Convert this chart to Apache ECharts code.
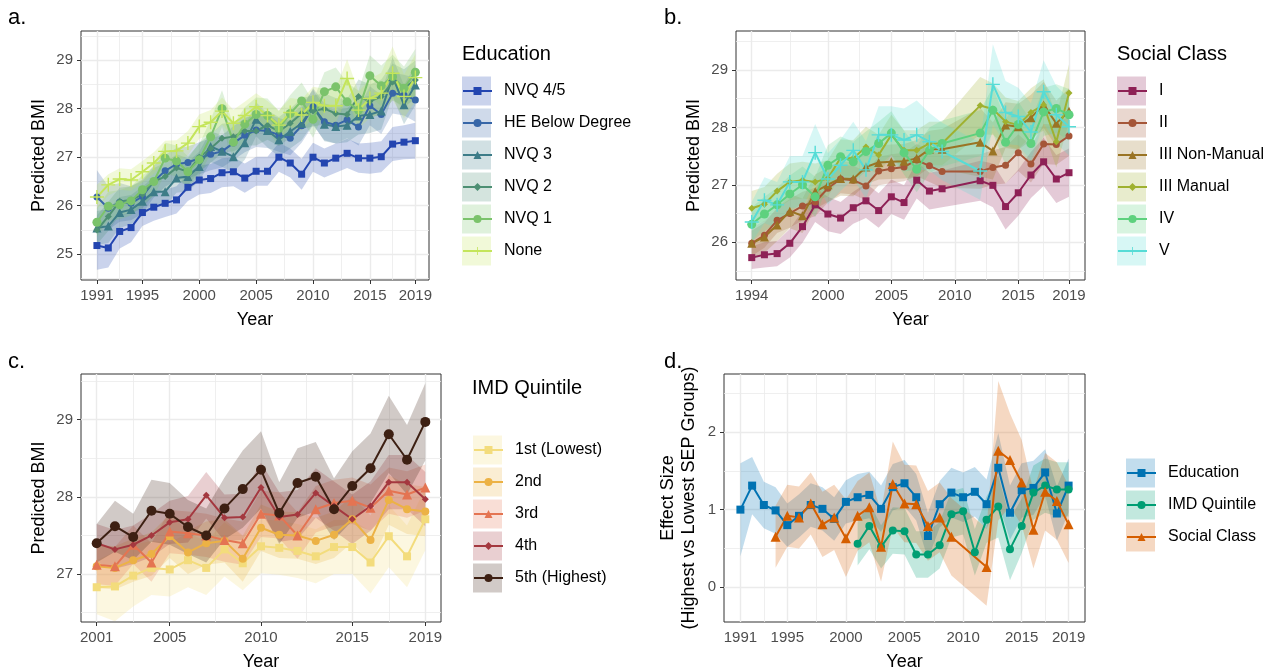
<!DOCTYPE html>
<html>
<head>
    <meta charset="utf-8"/>
    <title>Predicted BMI by socioeconomic position</title>
    <script src="https://cdn.jsdelivr.net/npm/echarts@6.0.0/dist/echarts.min.js"></script>
    <style>
        html, body { margin: 0; padding: 0; background: #fff; }
        #main { width: 1277px; height: 672px; }
    </style>
</head>
<body>
<div id="main"></div>
<script>
    var FONT = '"Liberation Sans", Arial, Helvetica, sans-serif';
    var PLUS = 'path://M9,0H11V9H20V11H11V20H9V11H0V9H9Z';

    // ---- a. Education ----
    var yearsA = [1991, 1992, 1993, 1994, 1995, 1996, 1997, 1998, 1999, 2000, 2001, 2002, 2003, 2004, 2005,
        2006, 2007, 2008, 2009, 2010, 2011, 2012, 2013, 2014, 2015, 2016, 2017, 2018, 2019];
    var nvq45 = [25.18, 25.13, 25.47, 25.55, 25.86, 25.97, 26.05, 26.12, 26.38, 26.53, 26.56, 26.68, 26.70, 26.57, 26.71,
        26.71, 27.00, 26.88, 26.65, 27.00, 26.88, 26.98, 27.08, 26.98, 26.98, 27.01, 27.27, 27.31, 27.34];
    var heBelow = [26.18, 25.95, 26.07, 26.05, 26.19, 26.50, 26.72, 26.86, 26.89, 26.98, 27.06, 27.12, 27.29, 27.45, 27.56,
        27.54, 27.46, 27.39, 27.65, 28.04, 27.73, 27.66, 27.77, 27.62, 28.06, 27.88, 28.32, 28.28, 28.18];
    var nvq3 = [25.54, 25.58, 25.86, 25.92, 26.09, 26.29, 26.29, 26.57, 26.60, 26.81, 27.22, 27.12, 27.01, 27.30, 27.78,
        27.55, 27.36, 27.53, 27.70, 28.04, 27.68, 27.63, 27.66, 27.85, 27.88, 27.95, 28.66, 28.08, 28.49];
    var nvq2 = [25.50, 25.78, 26.09, 26.12, 26.23, 26.50, 26.60, 26.78, 26.70, 27.00, 27.18, 27.39, 27.42, 27.54, 27.54,
        27.66, 27.53, 27.70, 27.90, 27.95, 28.00, 27.90, 27.88, 28.25, 28.15, 28.25, 28.55, 28.43, 28.59];
    var nvq1 = [25.66, 25.99, 26.02, 26.10, 26.33, 26.50, 26.98, 26.92, 26.70, 26.95, 27.42, 28.00, 27.31, 27.68, 27.88,
        27.86, 27.60, 27.90, 28.16, 27.78, 28.35, 28.45, 28.14, 27.97, 28.68, 28.47, 28.66, 28.42, 28.75];
    var noQual = [26.18, 26.43, 26.55, 26.53, 26.70, 26.88, 27.12, 27.13, 27.29, 27.63, 27.72, 27.95, 27.70, 27.86, 28.04,
        27.86, 27.66, 27.92, 27.87, 28.13, 28.06, 28.06, 28.62, 27.97, 28.21, 28.32, 28.73, 28.25, 28.64];
    // half widths of the 95% bands
    var ciNvq45 = [0.50, 0.40, 0.35, 0.30, 0.28, 0.28, 0.28, 0.28, 0.28, 0.30, 0.30, 0.30, 0.30, 0.30, 0.30,
        0.30, 0.30, 0.30, 0.32, 0.30, 0.30, 0.30, 0.30, 0.30, 0.32, 0.32, 0.35, 0.35, 0.37];
    var ciHe = [0.55, 0.45, 0.40, 0.35, 0.35, 0.33, 0.33, 0.33, 0.33, 0.33, 0.33, 0.33, 0.35, 0.35, 0.35,
        0.35, 0.35, 0.35, 0.35, 0.38, 0.38, 0.38, 0.38, 0.38, 0.40, 0.40, 0.42, 0.42, 0.45];
    var ciNvq3 = [0.35, 0.35, 0.32, 0.30, 0.30, 0.30, 0.30, 0.30, 0.30, 0.30, 0.32, 0.32, 0.32, 0.35, 0.35,
        0.35, 0.35, 0.35, 0.35, 0.35, 0.35, 0.35, 0.35, 0.38, 0.38, 0.38, 0.40, 0.40, 0.42];
    var ciNvq2 = [0.30, 0.30, 0.28, 0.28, 0.28, 0.28, 0.28, 0.28, 0.28, 0.30, 0.30, 0.30, 0.30, 0.30, 0.30,
        0.30, 0.30, 0.30, 0.32, 0.32, 0.32, 0.32, 0.32, 0.35, 0.35, 0.35, 0.38, 0.38, 0.40];
    var ciNvq1 = [0.30, 0.30, 0.30, 0.30, 0.30, 0.30, 0.32, 0.32, 0.32, 0.32, 0.35, 0.38, 0.35, 0.35, 0.35,
        0.35, 0.35, 0.38, 0.38, 0.38, 0.40, 0.40, 0.40, 0.40, 0.42, 0.42, 0.45, 0.45, 0.48];
    var ciNone = [0.25, 0.22, 0.22, 0.22, 0.22, 0.22, 0.22, 0.22, 0.25, 0.25, 0.25, 0.28, 0.28, 0.28, 0.28,
        0.30, 0.30, 0.30, 0.32, 0.32, 0.35, 0.35, 0.40, 0.38, 0.40, 0.42, 0.55, 0.45, 0.48];

    // ---- b. Social Class (no 2010, 2011) ----
    var yearsB = [1994, 1995, 1996, 1997, 1998, 1999, 2000, 2001, 2002, 2003, 2004, 2005, 2006, 2007, 2008, 2009,
        2012, 2013, 2014, 2015, 2016, 2017, 2018, 2019];
    var classI = [25.73, 25.78, 25.80, 25.98, 26.27, 26.65, 26.49, 26.42, 26.60, 26.72, 26.55, 26.79, 26.69, 27.08, 26.89, 26.93,
        27.07, 26.99, 26.62, 26.86, 27.17, 27.40, 27.10, 27.21];
    var classII = [25.98, 26.12, 26.38, 26.50, 26.63, 26.70, 26.94, 27.10, 27.08, 26.98, 27.24, 27.28, 27.31, 27.43, 27.33, 27.23,
        27.23, 27.30, 27.34, 27.56, 27.36, 27.71, 27.70, 27.85];
    var classIIINM = [25.98, 26.09, 26.30, 26.54, 26.46, 26.88, 27.00, 27.11, 27.10, 27.31, 27.39, 27.40, 27.41, 27.46, 27.62, 27.62,
        27.74, 27.59, 28.04, 28.01, 28.17, 28.39, 28.07, 28.28];
    var classIIIM = [26.59, 26.66, 26.89, 27.05, 27.08, 27.05, 27.11, 27.47, 27.46, 27.66, 27.52, 27.87, 27.60, 27.60, 27.72, 27.72,
        28.38, 28.32, 28.10, 28.04, 28.26, 28.39, 27.75, 28.60];
    var classIV = [26.31, 26.49, 26.65, 26.84, 27.00, 26.79, 27.34, 27.49, 27.40, 27.58, 27.72, 27.90, 27.56, 27.27, 27.60, 27.72,
        27.90, 28.30, 27.74, 28.05, 27.72, 28.27, 28.33, 28.22];
    var classV = [26.35, 26.73, 26.65, 27.05, 27.05, 27.56, 27.10, 27.34, 27.60, 27.26, 27.87, 27.87, 27.78, 27.87, 27.75, 27.58,
        27.24, 28.75, 28.26, 28.19, 27.92, 28.62, 28.22, 28.01];
    var ciI = [0.20, 0.22, 0.22, 0.25, 0.28, 0.30, 0.30, 0.28, 0.28, 0.30, 0.30, 0.30, 0.30, 0.32, 0.32, 0.32,
        0.35, 0.38, 0.40, 0.40, 0.40, 0.42, 0.42, 0.42];
    var ciII = [0.22, 0.22, 0.22, 0.25, 0.25, 0.25, 0.25, 0.25, 0.25, 0.25, 0.25, 0.25, 0.25, 0.28, 0.28, 0.28,
        0.30, 0.30, 0.32, 0.32, 0.32, 0.35, 0.35, 0.35];
    var ciIIINM = [0.28, 0.28, 0.28, 0.30, 0.30, 0.30, 0.30, 0.30, 0.30, 0.30, 0.30, 0.30, 0.30, 0.32, 0.32, 0.35,
        0.60, 0.50, 0.40, 0.40, 0.40, 0.40, 0.40, 0.40];
    var ciIIIM = [0.30, 0.30, 0.30, 0.32, 0.32, 0.32, 0.32, 0.32, 0.32, 0.35, 0.35, 0.35, 0.35, 0.35, 0.38, 0.38,
        0.50, 0.45, 0.42, 0.42, 0.42, 0.45, 0.45, 0.50];
    var ciIV = [0.30, 0.30, 0.30, 0.32, 0.32, 0.35, 0.35, 0.35, 0.35, 0.35, 0.38, 0.38, 0.38, 0.40, 0.40, 0.40,
        0.40, 0.40, 0.40, 0.40, 0.40, 0.42, 0.42, 0.45];
    var ciV = [0.35, 0.40, 0.40, 0.45, 0.45, 0.50, 0.45, 0.45, 0.50, 0.50, 0.50, 0.50, 0.55, 0.60, 0.50, 0.50,
        0.50, 0.70, 0.55, 0.50, 0.50, 0.55, 0.50, 0.50];

    // ---- c. IMD Quintile ----
    var yearsC = [2001, 2002, 2003, 2004, 2005, 2006, 2007, 2008, 2009, 2010, 2011, 2012, 2013, 2014, 2015, 2016, 2017, 2018, 2019];
    var imd1 = [26.83, 26.84, 26.98, 27.08, 27.06, 27.18, 27.08, 27.32, 27.14, 27.36, 27.34, 27.30, 27.23, 27.35, 27.35, 27.15, 27.49, 27.23, 27.71];
    var imd2 = [27.10, 27.08, 27.18, 27.26, 27.49, 27.28, 27.40, 27.43, 27.20, 27.60, 27.51, 27.50, 27.43, 27.51, 27.71, 27.44, 27.96, 27.84, 27.81];
    var imd3 = [27.12, 27.10, 27.38, 27.15, 27.55, 27.53, 27.50, 27.44, 27.40, 27.78, 27.76, 27.50, 27.84, 27.92, 27.95, 27.86, 28.08, 28.03, 28.12];
    var imd4 = [27.40, 27.32, 27.38, 27.50, 27.67, 27.71, 28.02, 27.73, 27.74, 28.12, 27.74, 27.77, 28.05, 27.88, 27.71, 27.88, 28.19, 28.19, 27.97];
    var imd5 = [27.40, 27.62, 27.48, 27.82, 27.78, 27.61, 27.50, 27.85, 28.10, 28.35, 27.79, 28.18, 28.26, 27.84, 28.14, 28.37, 28.81, 28.48, 28.97];
    var ciImd1 = [0.35, 0.45, 0.40, 0.35, 0.35, 0.35, 0.35, 0.35, 0.35, 0.35, 0.35, 0.35, 0.35, 0.35, 0.35, 0.40, 0.40, 0.40, 0.40];
    var ciImd2 = [0.28, 0.28, 0.28, 0.28, 0.28, 0.28, 0.28, 0.28, 0.30, 0.30, 0.30, 0.30, 0.30, 0.30, 0.30, 0.32, 0.32, 0.32, 0.32];
    var ciImd3 = [0.25, 0.25, 0.25, 0.25, 0.28, 0.28, 0.28, 0.28, 0.28, 0.30, 0.30, 0.30, 0.30, 0.30, 0.30, 0.30, 0.30, 0.30, 0.30];
    var ciImd4 = [0.25, 0.25, 0.25, 0.28, 0.28, 0.30, 0.30, 0.30, 0.30, 0.32, 0.32, 0.32, 0.32, 0.32, 0.32, 0.32, 0.35, 0.35, 0.35];
    var ciImd5 = [0.25, 0.33, 0.30, 0.40, 0.40, 0.35, 0.35, 0.40, 0.50, 0.50, 0.40, 0.45, 0.45, 0.40, 0.45, 0.45, 0.50, 0.45, 0.50];

    // ---- d. Effect size ----
    var yearsEdu = yearsA;
    var effEdu = [1.00, 1.31, 1.06, 0.99, 0.80, 0.92, 1.06, 1.01, 0.88, 1.10, 1.16, 1.19, 1.01, 1.29, 1.34,
        1.16, 0.66, 1.07, 1.22, 1.16, 1.23, 1.07, 1.54, 0.96, 1.25, 1.28, 1.48, 0.95, 1.31];
    var yearsImd = yearsC;
    var effImd = [0.56, 0.79, 0.52, 0.73, 0.72, 0.42, 0.42, 0.54, 0.94, 0.98, 0.45, 0.87, 1.04, 0.49, 0.79, 1.22, 1.31, 1.26, 1.26];
    var yearsSoc = yearsB;
    var effSoc = [0.65, 0.92, 0.90, 1.08, 0.81, 0.90, 0.63, 0.92, 1.03, 0.52, 1.33, 1.08, 1.07, 0.79, 0.90, 0.65,
        0.26, 1.76, 1.64, 1.35, 0.74, 1.23, 1.11, 0.81];
    var ciEdu = [0.60, 0.37, 0.30, 0.30, 0.28, 0.28, 0.28, 0.28, 0.28, 0.28, 0.30, 0.30, 0.30, 0.30, 0.30,
        0.30, 0.30, 0.30, 0.32, 0.32, 0.32, 0.32, 0.45, 0.35, 0.35, 0.35, 0.30, 0.35, 0.35];
    var ciImd = [0.28, 0.30, 0.28, 0.30, 0.30, 0.30, 0.30, 0.30, 0.30, 0.30, 0.30, 0.30, 0.40, 0.40, 0.35, 0.35, 0.35, 0.35, 0.35];
    var ciSoc = [0.40, 0.40, 0.40, 0.40, 0.42, 0.42, 0.50, 0.45, 0.45, 0.45, 0.55, 0.50, 0.50, 0.45, 0.45, 0.50,
        0.50, 0.90, 0.60, 0.55, 0.50, 0.50, 0.50, 0.50];

    // tick breaks
    var ticksYearA = [1991, 1995, 2000, 2005, 2010, 2015, 2019];
    var minorYearA = [1993, 1997.5, 2002.5, 2007.5, 2012.5, 2017];
    var ticksYearB = [1994, 2000, 2005, 2010, 2015, 2019];
    var minorYearB = [1997, 2002.5, 2007.5, 2012.5, 2017];
    var ticksYearC = [2001, 2005, 2010, 2015, 2019];
    var minorYearC = [2003, 2007.5, 2012.5, 2017];
    var ticksBmiA = [25, 26, 27, 28, 29];
    var minorBmiA = [24.5, 25.5, 26.5, 27.5, 28.5, 29.5];
    var ticksBmiB = [26, 27, 28, 29];
    var minorBmiB = [25.5, 26.5, 27.5, 28.5, 29.5];
    var ticksBmiC = [27, 28, 29];
    var minorBmiC = [26.5, 27.5, 28.5, 29.5];
    var ticksEff = [0, 1, 2];
    var minorEff = [0.5, 1.5, 2.5];

    var panels = [
        {
            label: 'a.', labelPos: [8, 7],
            grid: {left: 81, top: 31, width: 348, height: 249},
            x: [1989.6, 2020.2], y: [24.47, 29.6],
            xTicks: ticksYearA, xMinor: minorYearA, yTicks: ticksBmiA, yMinor: minorBmiA,
            yName: 'Predicted BMI', yGap: 31,
            legendTitle: 'Education', titlePos: [462, 44], legendPos: [462, 80],
            groups: [
                {name: 'NVQ 4/5', color: '#2345b0', symbol: 'rect', size: 7, xs: yearsA, ys: nvq45, ci: ciNvq45},
                {name: 'HE Below Degree', color: '#3766a8', symbol: 'circle', size: 7, xs: yearsA, ys: heBelow, ci: ciHe},
                {name: 'NVQ 3', color: '#3d7c88', symbol: 'triangle', size: 9, xs: yearsA, ys: nvq3, ci: ciNvq3},
                {name: 'NVQ 2', color: '#4d8f73', symbol: 'diamond', size: 7, xs: yearsA, ys: nvq2, ci: ciNvq2},
                {name: 'NVQ 1', color: '#7bc36b', symbol: 'circle', size: 9, xs: yearsA, ys: nvq1, ci: ciNvq1},
                {name: 'None', color: '#c4e55b', symbol: PLUS, size: 14, xs: yearsA, ys: noQual, ci: ciNone}
            ]
        },
        {
            label: 'b.', labelPos: [664, 7],
            grid: {left: 736, top: 31, width: 349, height: 249},
            x: [1992.76, 2020.26], y: [25.34, 29.68],
            xTicks: ticksYearB, xMinor: minorYearB, yTicks: ticksBmiB, yMinor: minorBmiB,
            yName: 'Predicted BMI', yGap: 31,
            legendTitle: 'Social Class', titlePos: [1117, 44], legendPos: [1117, 80],
            groups: [
                {name: 'I', color: '#8e2156', symbol: 'rect', size: 7, xs: yearsB, ys: classI, ci: ciI},
                {name: 'II', color: '#a55638', symbol: 'circle', size: 7, xs: yearsB, ys: classII, ci: ciII},
                {name: 'III Non-Manual', color: '#9a7424', symbol: 'triangle', size: 9, xs: yearsB, ys: classIIINM, ci: ciIIINM},
                {name: 'III Manual', color: '#9fb130', symbol: 'diamond', size: 7, xs: yearsB, ys: classIIIM, ci: ciIIIM},
                {name: 'IV', color: '#5ed17e', symbol: 'circle', size: 9, xs: yearsB, ys: classIV, ci: ciIV},
                {name: 'V', color: '#56dcd6', symbol: PLUS, size: 14, xs: yearsB, ys: classV, ci: ciV}
            ]
        },
        {
            label: 'c.', labelPos: [8, 351],
            grid: {left: 81, top: 374, width: 360, height: 250},
            x: [2000.14, 2019.86], y: [26.38, 29.59],
            xTicks: ticksYearC, xMinor: minorYearC, yTicks: ticksBmiC, yMinor: minorBmiC,
            yName: 'Predicted BMI', yGap: 31,
            legendTitle: 'IMD Quintile', titlePos: [472, 378], legendPos: [473, 439],
            groups: [
                {name: '1st (Lowest)', color: '#f3dc7c', symbol: 'rect', size: 8, xs: yearsC, ys: imd1, ci: ciImd1},
                {name: '2nd', color: '#ecb245', symbol: 'circle', size: 8, xs: yearsC, ys: imd2, ci: ciImd2},
                {name: '3rd', color: '#e47452', symbol: 'triangle', size: 10, xs: yearsC, ys: imd3, ci: ciImd3},
                {name: '4th', color: '#a4383f', symbol: 'diamond', size: 7, xs: yearsC, ys: imd4, ci: ciImd4},
                {name: '5th (Highest)', color: '#3d2013', symbol: 'circle', size: 10, xs: yearsC, ys: imd5, ci: ciImd5}
            ]
        },
        {
            label: 'd.', labelPos: [664, 351],
            grid: {left: 724, top: 374, width: 361, height: 250},
            x: [1989.6, 2020.4], y: [-0.45, 2.75],
            xTicks: ticksYearA, xMinor: minorYearA, yTicks: ticksEff, yMinor: minorEff,
            yName: 'Effect Size\n(Highest vs Lowest SEP Groups)', yGap: 24,
            legendTitle: '', titlePos: [1126, 440], legendPos: [1126, 462],
            groups: [
                {name: 'Education', color: '#0072b2', symbol: 'rect', size: 8, xs: yearsEdu, ys: effEdu, ci: ciEdu},
                {name: 'IMD Quintile', color: '#009e73', symbol: 'circle', size: 8, xs: yearsImd, ys: effImd, ci: ciImd},
                {name: 'Social Class', color: '#d55e00', symbol: 'triangle', size: 10, xs: yearsSoc, ys: effSoc, ci: ciSoc}
            ]
        }
    ];

    var chart = echarts.init(document.getElementById('main'));

    var grids = [], xAxes = [], yAxes = [], series = [], legends = [], graphics = [];
    var fmt = function (v) { return String(v); };

    panels.forEach(function (p, k) {
        grids.push({left: p.grid.left, top: p.grid.top, width: p.grid.width, height: p.grid.height,
            show: true, borderColor: '#333', borderWidth: 1, backgroundColor: '#fff', containLabel: false});

        xAxes.push({
            type: 'value', gridIndex: k, min: p.x[0], max: p.x[1],
            axisLine: {show: false},
            axisTick: {show: true, customValues: p.xTicks, length: 4, lineStyle: {color: '#333'}},
            axisLabel: {customValues: p.xTicks, formatter: fmt, fontSize: 15, color: '#4d4d4d', fontFamily: FONT, margin: 8},
            splitLine: {show: false},
            name: 'Year', nameLocation: 'middle', nameGap: 31,
            nameTextStyle: {fontSize: 18, color: '#000', fontFamily: FONT}
        });
        yAxes.push({
            type: 'value', gridIndex: k, min: p.y[0], max: p.y[1],
            axisLine: {show: false},
            axisTick: {show: true, customValues: p.yTicks, length: 4, lineStyle: {color: '#333'}},
            axisLabel: {customValues: p.yTicks, formatter: fmt, fontSize: 15, color: '#4d4d4d', fontFamily: FONT, margin: 8},
            splitLine: {show: false},
            name: p.yName, nameLocation: 'middle', nameGap: p.yGap,
            nameTextStyle: {fontSize: 18, lineHeight: 21, color: '#000', fontFamily: FONT}
        });

        // background grid lines
        var gl = [];
        p.xTicks.forEach(function (v) { gl.push({xAxis: v, lineStyle: {width: 1.4}}); });
        p.xMinor.forEach(function (v) { gl.push({xAxis: v, lineStyle: {width: 0.8}}); });
        p.yTicks.forEach(function (v) { gl.push({yAxis: v, lineStyle: {width: 1.4}}); });
        p.yMinor.forEach(function (v) {
            if (v > p.y[0] && v < p.y[1]) gl.push({yAxis: v, lineStyle: {width: 0.8}});
        });
        series.push({
            type: 'line', name: 'grid' + k, xAxisIndex: k, yAxisIndex: k, data: [], silent: true, z: 1,
            markLine: {silent: true, symbol: 'none', z: 1, label: {show: false}, animation: false,
                lineStyle: {type: 'solid', color: '#ebebeb'}, emphasis: {disabled: true}, data: gl}
        });

        // confidence bands
        p.groups.forEach(function (g) {
            var pts = g.xs.map(function (x, i) { return [x, g.ys[i] - g.ci[i], g.ys[i] + g.ci[i]]; });
            series.push({
                type: 'custom', xAxisIndex: k, yAxisIndex: k, silent: true, z: 2,
                data: pts, encode: {x: 0, y: [1, 2]},
                renderItem: function (params, api) {
                    if (params.dataIndex !== 0) return null;
                    var top = pts.map(function (q) { return api.coord([q[0], q[2]]); });
                    var bot = pts.map(function (q) { return api.coord([q[0], q[1]]); }).reverse();
                    return {type: 'polygon', shape: {points: top.concat(bot)},
                        style: {fill: g.color, opacity: 0.24, stroke: null}};
                }
            });
        });

        // lines + points
        p.groups.forEach(function (g) {
            series.push({
                type: 'line', name: g.name, xAxisIndex: k, yAxisIndex: k, z: 3,
                data: g.xs.map(function (x, i) { return [x, g.ys[i]]; }),
                symbol: g.symbol, symbolSize: g.size, showAllSymbol: true,
                itemStyle: {color: g.color}, lineStyle: {color: g.color, width: 2},
                emphasis: {disabled: true}
            });
        });

        legends.push({
            data: p.groups.map(function (g) { return g.name; }),
            orient: 'vertical', left: p.legendPos[0], top: p.legendPos[1], padding: 0,
            itemWidth: 29, itemHeight: 10, itemGap: 10,
            textStyle: {fontSize: 16, lineHeight: 22, color: '#000', fontFamily: FONT, padding: [0, 0, 0, 7]}
        });

        // legend key backgrounds
        p.groups.forEach(function (g, i) {
            graphics.push({type: 'rect', left: p.legendPos[0], top: p.legendPos[1] + 11 - 14.5 + i * 32, z: 0,
                shape: {width: 29, height: 29}, style: {fill: g.color, opacity: 0.24}});
        });
        if (p.legendTitle) {
            graphics.push({type: 'text', left: p.titlePos[0], top: p.titlePos[1],
                style: {text: p.legendTitle, fontSize: 20, fontFamily: FONT, fill: '#000'}});
        }
        graphics.push({type: 'text', left: p.labelPos[0], top: p.labelPos[1],
            style: {text: p.label, fontSize: 22, fontFamily: FONT, fill: '#000'}});
    });

    chart.setOption({
        animation: false,
        textStyle: {fontFamily: FONT},
        grid: grids,
        xAxis: xAxes,
        yAxis: yAxes,
        legend: legends,
        graphic: graphics,
        series: series
    });
</script>
</body>
</html>
